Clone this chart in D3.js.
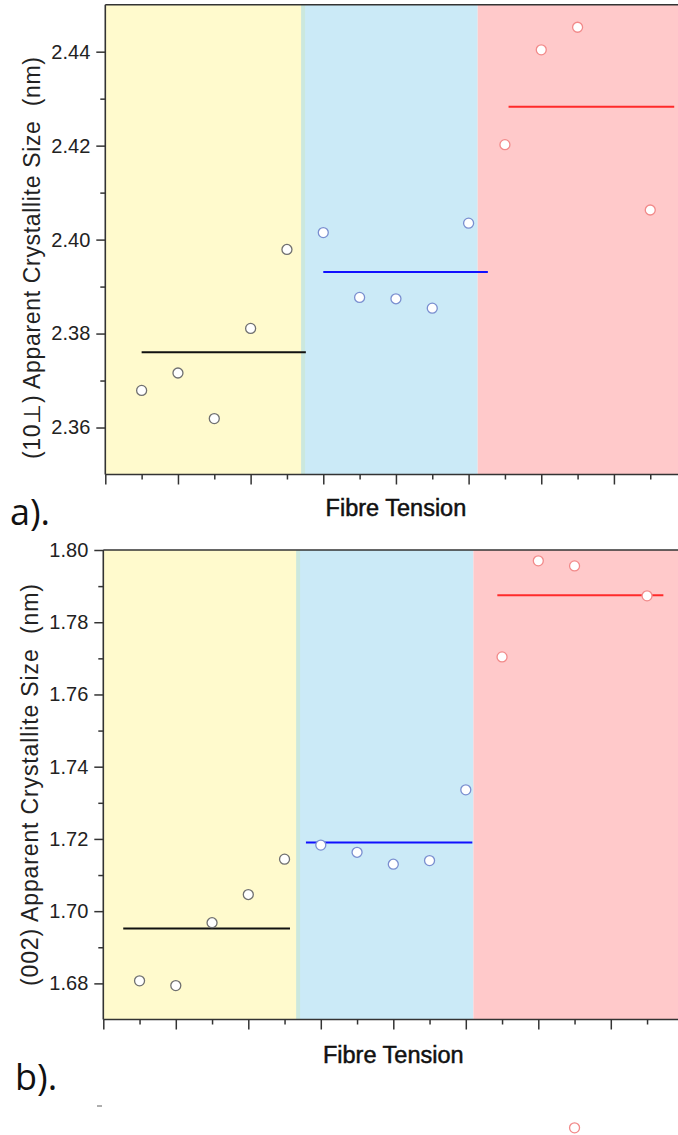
<!DOCTYPE html>
<html>
<head>
<meta charset="utf-8">
<script src="https://cdn.jsdelivr.net/npm/d3@7"></script>
<style>
  body { margin: 0; background: #fff; }
  svg { display: block; font-family: "Liberation Sans", Arial, sans-serif; }
</style>
</head>
<body>
<svg id="chart" width="678" height="1135"></svg>
<script>
//DATA
var groups = ["low", "mid", "high"];

//position of each sample along the (unlabelled) tension axis
var xLow = [1, 2, 3, 4, 5];
var xMid = [6, 7, 8, 9, 10];
var xHigh = [11, 12, 13, 15];

//panel a: (10-perp) crystallite size, nm
var aLow = [2.3679, 2.3716, 2.3619, 2.3811, 2.3979];
var aMid = [2.4015, 2.3877, 2.3874, 2.3854, 2.4035];
var aHigh = [2.4202, 2.4404, 2.4452, 2.4063];
var aMeans = [2.3760, 2.3931, 2.4283];
var aMeanSpan = [[1, 5.52], [6, 10.53], [11.1, 15.66]];
var aRegions = [[0, 5.5], [5.39, 10.25], [10.25, 16]];
var aTicks = [2.36, 2.38, 2.40, 2.42, 2.44];
var aMinor = [2.37, 2.39, 2.41, 2.43];

//panel b: (002) crystallite size, nm
var bLow = [1.6807, 1.6794, 1.6968, 1.7046, 1.7144];
var bMid = [1.7183, 1.7163, 1.7130, 1.7140, 1.7336];
var bHigh = [1.7704, 1.7970, 1.7956, 1.7873];
var bMeans = [1.6952, 1.7190, 1.7875];
var bMeanSpan = [[0.55, 5.15], [5.59, 10.18], [10.87, 15.45]];
var bRegions = [[0, 5.43], [5.32, 10.21], [10.21, 16]];
var bTicks = [1.68, 1.70, 1.72, 1.74, 1.76, 1.78, 1.80];
var bMinor = [1.69, 1.71, 1.73, 1.75, 1.77, 1.79];
//the one stray high-tension point that falls off the bottom of panel b
var bStrayX = [13];
var bStrayV = [1.640];

//STYLE
var regionFill = {low: "#fffacd", mid: "#97d5ef", high: "#ffc9ca"};
var regionOpacity = {low: 1, mid: 0.5, high: 1};
var lineColor = {low: "#111", mid: "#1010ff", high: "#ff2a2a"};
var dotStroke = {low: "#707070", mid: "#7a8fd0", high: "#f28a8a"};

var svg = d3.select("#chart");

function drawPanel(p){
  let x = d3.scaleLinear().domain([0, 16]).range([p.left, p.left + 16 * p.step]);
  let y = d3.scaleLinear().domain(p.domain).range([p.bottom, p.top]);
  let g = svg.append("g");

  //background bands
  g.selectAll("rect.band").data(groups).join("rect")
    .attr("class", "band")
    .attr("x", (d, i) => x(p.regions[i][0]))
    .attr("width", (d, i) => x(p.regions[i][1]) - x(p.regions[i][0]))
    .attr("y", y(p.domain[1]))
    .attr("height", y(p.domain[0]) - y(p.domain[1]))
    .style("fill", d => regionFill[d])
    .style("opacity", d => regionOpacity[d]);

  //mean lines
  g.selectAll("line.mean").data(groups).join("line")
    .attr("class", "mean")
    .attr("x1", (d, i) => x(p.meanSpan[i][0]))
    .attr("x2", (d, i) => x(p.meanSpan[i][1]))
    .attr("y1", (d, i) => y(p.means[i]))
    .attr("y2", (d, i) => y(p.means[i]))
    .style("stroke", d => lineColor[d])
    .style("stroke-width", 2);

  //points
  groups.forEach(function(grp, gi){
    let pts = p.xs[gi].map((xv, i) => ({x: xv, v: p.values[gi][i]}));
    g.selectAll("circle." + grp).data(pts).join("circle")
      .attr("class", grp)
      .attr("cx", d => x(d.x))
      .attr("cy", d => y(d.v))
      .attr("r", 5)
      .style("fill", "#fff")
      .style("stroke", dotStroke[grp])
      .style("stroke-width", 1.3);
  });

  //frame: top border
  g.append("line")
    .attr("x1", x(0)).attr("x2", 678)
    .attr("y1", y(p.domain[1])).attr("y2", y(p.domain[1]))
    .style("stroke", "#333").style("stroke-width", 1.6);

  //y axis
  let yAxis = g.append("g").attr("transform", "translate(" + x(0) + ",0)")
    .call(d3.axisLeft(y).tickValues(p.ticks).tickSize(9).tickPadding(6).tickFormat(d3.format(".2f")));
  g.append("g").attr("transform", "translate(" + x(0) + ",0)")
    .call(d3.axisLeft(y).tickValues(p.minor).tickSize(5).tickFormat(""))
    .select(".domain").remove();
  yAxis.select(".domain").attr("d", "M0," + y(p.domain[0]) + "V" + y(p.domain[1]));
  yAxis.selectAll("text").style("font-size", "20px").style("fill", "#222");

  //x axis, ticks only
  let xAxis = g.append("g").attr("transform", "translate(0," + y(p.domain[0]) + ")")
    .call(d3.axisBottom(x).tickValues(d3.range(0, 17, 2)).tickSize(10).tickFormat(""));
  g.append("g").attr("transform", "translate(0," + y(p.domain[0]) + ")")
    .call(d3.axisBottom(x).tickValues(d3.range(1, 17, 2)).tickSize(5).tickFormat(""))
    .select(".domain").remove();
  xAxis.select(".domain").attr("d", "M" + x(0) + ",0H678");

  g.selectAll(".domain").style("stroke", "#333").style("stroke-width", 1.6);
  g.selectAll(".tick line").style("stroke", "#333").style("stroke-width", 1.5);

  //labels
  g.append("text")
    .attr("transform", "translate(" + p.ylabX + "," + p.ylabY + ") rotate(-90)")
    .attr("text-anchor", "middle")
    .attr("dy", "0.35em")
    .attr("textLength", 402)
    .attr("lengthAdjust", "spacing")
    .style("white-space", "pre")
    .style("font-size", "23px")
    .style("fill", "#222")
    .text(p.ylabel);

  g.append("text")
    .attr("x", x(8.0))
    .attr("y", p.xlabY)
    .attr("text-anchor", "middle")
    .style("font-size", "23.5px")
    .style("stroke", "#111")
    .style("stroke-width", 0.5)
    .style("fill", "#111")
    .text("Fibre Tension");

  g.append("text")
    .attr("x", p.tagX)
    .attr("y", p.tagY)
    .style("font-family", "'Open Sans', 'Noto Sans', sans-serif")
    .style("font-size", "36px")
    .style("fill", "#111")
    .text(p.tag);

  return {x: x, y: y, g: g};
}

drawPanel({
  left: 105.3, step: 36.33, top: 4.7, bottom: 474.5, domain: [2.35, 2.45],
  regions: aRegions, means: aMeans, meanSpan: aMeanSpan,
  xs: [xLow, xMid, xHigh], values: [aLow, aMid, aHigh],
  ticks: aTicks, minor: aMinor,
  ylabel: "(10\u22A5) Apparent Crystallite Size  (nm)", ylabX: 32, ylabY: 258,
  xlabY: 515.5, tag: "a).", tagX: 10, tagY: 525
});

var b = drawPanel({
  left: 103.3, step: 36.25, top: 550, bottom: 1019.5, domain: [1.67, 1.80],
  regions: bRegions, means: bMeans, meanSpan: bMeanSpan,
  xs: [xLow, xMid, xHigh], values: [bLow, bMid, bHigh],
  ticks: bTicks, minor: bMinor,
  ylabel: "(002) Apparent Crystallite Size  (nm)", ylabX: 30, ylabY: 785,
  xlabY: 1062.5, tag: "b).", tagX: 15, tagY: 1090
});

//stray point, not clipped to the plot area
b.g.selectAll("circle.stray").data(bStrayX.map((xv, i) => ({x: xv, v: bStrayV[i]}))).join("circle")
  .attr("class", "stray")
  .attr("cx", d => b.x(d.x))
  .attr("cy", d => b.y(d.v))
  .attr("r", 5)
  .style("fill", "#fff")
  .style("stroke", dotStroke.high)
  .style("stroke-width", 1.3);

//small stray dash under the b) label
svg.append("line")
  .attr("x1", 97).attr("x2", 102)
  .attr("y1", 1106).attr("y2", 1106)
  .style("stroke", "#777").style("stroke-width", 1.2);
</script>
</body>
</html>
